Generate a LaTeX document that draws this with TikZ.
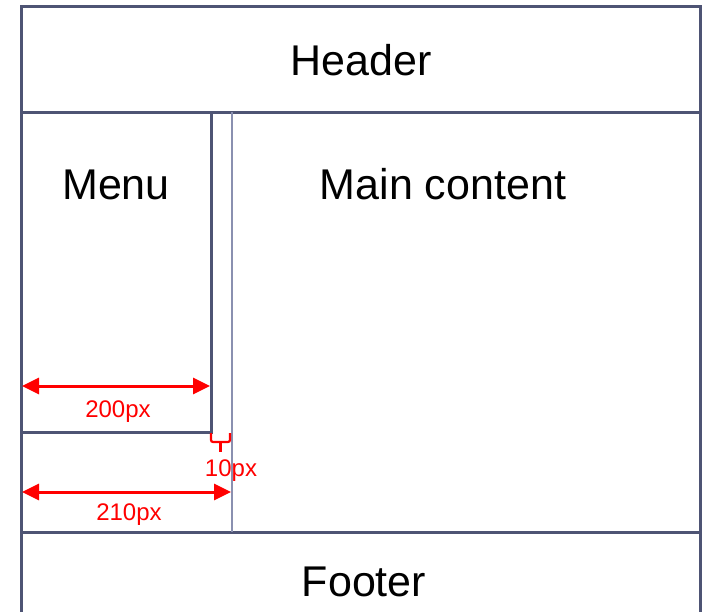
\documentclass[tikz,border=0pt]{standalone}
\usepackage{fontspec}
\setmainfont{Liberation Sans}
\usetikzlibrary{arrows.meta,calc}
\definecolor{frame}{HTML}{4E5474}
\definecolor{guide}{HTML}{8A90B0}
\tikzset{box/.style={draw=frame,line width=3pt},
  guideline/.style={draw=guide,line width=2pt},
  dim/.style={red,line width=3pt,{Triangle[length=17pt,width=16pt]}-{Triangle[length=17pt,width=16pt]}},
  big/.style={font=\fontsize{43}{50}\selectfont,anchor=base},
  small/.style={red,font=\fontsize{24}{28}\selectfont,anchor=base}}

\begin{document}
\begin{tikzpicture}[x=1pt,y=-1pt]
  \useasboundingbox(0,0)rectangle(706,611);
  % layout boxes
  \draw[box](21,6)rectangle(700,112);
  \draw[box](21,112)rectangle(700,532);
  \draw[box](21,532)rectangle(700,640);
  \draw[box](21,112)rectangle(211,432);
  \draw[guideline](232,112)--(232,532);
  % texts
  \node[big](header)at(361,75){Header};
  \node[big](menu)at(116,199){Menu};
  \node[big](main)at(443,199){Main content};
  \node[big](footer)at(364,596){Footer};
  % dimensions
  \coordinate(a1)at(22,386);
  \coordinate(a2)at(210,386);
  \coordinate(b1)at(22,492);
  \coordinate(b2)at(231,492);
  \coordinate(c1)at(211,433);
  \coordinate(c2)at(230,433);
  \draw[dim](a1)--(a2);
  \draw[dim](b1)--(b2);
  \draw[red,line width=2.2pt,rounded corners=2pt](c1)--++(0,9)-|(c2);
  \draw[red,line width=2.2pt]($(c1)!0.5!(c2)+(0,9)$)--++(0,10);
  \node[small](w200)at(118,417){200px};
  \node[small](w10)at(231,476){10px};
  \node[small](w210)at(129,520){210px};
\end{tikzpicture}
\end{document}
